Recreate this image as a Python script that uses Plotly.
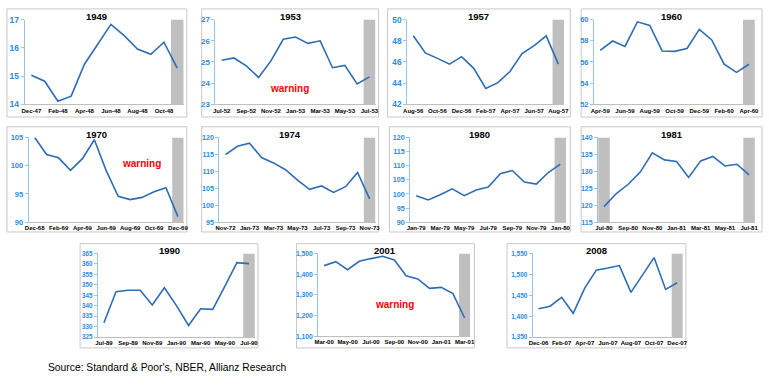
import plotly.graph_objects as go

W, H = 769, 387

# ---------------- data ----------------
titles = ["1949", "1953", "1957", "1960", "1970", "1974", "1980", "1981", "1990", "2001", "2008"]

m1949 = ["Dec-47", "Jan-48", "Feb-48", "Mar-48", "Apr-48", "May-48", "Jun-48", "Jul-48", "Aug-48", "Sep-48", "Oct-48", "Nov-48"]
v1949 = [15.03, 14.82, 14.11, 14.29, 15.42, 16.14, 16.83, 16.43, 15.96, 15.77, 16.2, 15.28]
r1949 = ["Nov-48"]

m1953 = ["Jul-52", "Aug-52", "Sep-52", "Oct-52", "Nov-52", "Dec-52", "Jan-53", "Feb-53", "Mar-53", "Apr-53", "May-53", "Jun-53", "Jul-53"]
v1953 = [25.08, 25.19, 24.82, 24.27, 25.05, 26.07, 26.18, 25.88, 26.0, 24.73, 24.84, 23.96, 24.3]
r1953 = ["Jul-53"]

m1957 = ["Aug-56", "Sep-56", "Oct-56", "Nov-56", "Dec-56", "Jan-57", "Feb-57", "Mar-57", "Apr-57", "May-57", "Jun-57", "Jul-57", "Aug-57"]
v1957 = [48.47, 46.85, 46.34, 45.8, 46.5, 45.4, 43.5, 44.05, 45.1, 46.8, 47.55, 48.47, 45.8]
r1957 = ["Aug-57"]

m1960 = ["Apr-59", "May-59", "Jun-59", "Jul-59", "Aug-59", "Sep-59", "Oct-59", "Nov-59", "Dec-59", "Jan-60", "Feb-60", "Mar-60", "Apr-60"]
v1960 = [57.1, 57.98, 57.47, 59.79, 59.45, 57.04, 57.0, 57.28, 59.08, 58.08, 55.79, 55.02, 55.79]
r1960 = ["Apr-60"]

m1970 = ["Dec-68", "Jan-69", "Feb-69", "Mar-69", "Apr-69", "May-69", "Jun-69", "Jul-69", "Aug-69", "Sep-69", "Oct-69", "Nov-69", "Dec-69"]
v1970 = [105.0, 102.0, 101.4, 99.2, 101.25, 104.6, 99.1, 94.6, 94.0, 94.4, 95.4, 96.1, 91.0]
r1970 = ["Dec-69"]

m1974 = ["Nov-72", "Dec-72", "Jan-73", "Feb-73", "Mar-73", "Apr-73", "May-73", "Jun-73", "Jul-73", "Aug-73", "Sep-73", "Oct-73", "Nov-73"]
v1974 = [114.94, 117.4, 118.3, 114.1, 112.5, 110.5, 107.4, 104.7, 105.7, 103.8, 105.5, 109.7, 101.9]
r1974 = ["Nov-73"]

m1980 = ["Jan-79", "Feb-79", "Mar-79", "Apr-79", "May-79", "Jun-79", "Jul-79", "Aug-79", "Sep-79", "Oct-79", "Nov-79", "Dec-79", "Jan-80"]
v1980 = [99.4, 97.9, 99.7, 101.8, 99.4, 101.4, 102.5, 107.2, 108.3, 104.2, 103.5, 107.6, 110.6]
r1980 = ["Jan-80"]

m1981 = ["Jul-80", "Aug-80", "Sep-80", "Oct-80", "Nov-80", "Dec-80", "Jan-81", "Feb-81", "Mar-81", "Apr-81", "May-81", "Jun-81", "Jul-81"]
v1981 = [119.6, 123.4, 126.2, 129.8, 135.5, 133.4, 132.9, 128.2, 133.1, 134.4, 131.6, 132.1, 129.0]
r1981 = ["Jul-80", "Jul-81"]

m1990 = ["Jul-89", "Aug-89", "Sep-89", "Oct-89", "Nov-89", "Dec-89", "Jan-90", "Feb-90", "Mar-90", "Apr-90", "May-90", "Jun-90", "Jul-90"]
v1990 = [331.9, 346.7, 347.4, 347.4, 340.4, 348.6, 340.1, 330.6, 338.6, 338.3, 349.3, 360.6, 360.1]
r1990 = ["Jul-90"]

m2001 = ["Mar-00", "Apr-00", "May-00", "Jun-00", "Jul-00", "Aug-00", "Sep-00", "Oct-00", "Nov-00", "Dec-00", "Jan-01", "Feb-01", "Mar-01"]
v2001 = [1441, 1460, 1421, 1462, 1475, 1486, 1468, 1392, 1377, 1331, 1336, 1306, 1188]
r2001 = ["Mar-01"]

m2008 = ["Dec-06", "Jan-07", "Feb-07", "Mar-07", "Apr-07", "May-07", "Jun-07", "Jul-07", "Aug-07", "Sep-07", "Oct-07", "Nov-07", "Dec-07"]
v2008 = [1418, 1424, 1445, 1407, 1467, 1510, 1515, 1521, 1457, 1497, 1540, 1464, 1480]
r2008 = ["Dec-07"]

y_ranges = [(14, 17, 1), (23, 27, 1), (42, 50, 2), (52, 60, 2), (90, 105, 5), (95, 120, 5),
            (90, 120, 5), (115, 140, 5), (325, 365, 5), (1100, 1500, 100), (1350, 1550, 50)]

warning_panels = ["1953", "1970", "2001"]
source_text = "Source: Standard & Poor's, NBER, Allianz Research"

months = [m1949, m1953, m1957, m1960, m1970, m1974, m1980, m1981, m1990, m2001, m2008]
values = [v1949, v1953, v1957, v1960, v1970, v1974, v1980, v1981, v1990, v2001, v2008]
recess = [r1949, r1953, r1957, r1960, r1970, r1974, r1980, r1981, r1990, r2001, r2008]

# ---------------- layout geometry (pixels) ----------------
# box (l, t, r, b), plot (l, t, r, b)
geom = [
    ((3, 4, 185, 115), (21, 15, 182, 102)),
    ((200, 4, 379, 115), (214, 15, 376, 102)),
    ((388, 4, 573, 115), (408, 15, 567, 102)),
    ((584, 4, 767, 115), (597, 15, 760, 102)),
    ((3, 125, 185, 233), (25, 136, 182, 223)),
    ((200, 125, 379, 233), (218, 136, 376, 223)),
    ((390, 125, 573, 233), (411, 136, 569, 223)),
    ((584, 125, 767, 233), (601, 136, 760, 223)),
    ((77, 245, 257, 352), (95, 255, 254, 341)),
    ((296, 245, 476, 352), (318, 255, 472, 340)),
    ((509, 245, 690, 352), (535, 255, 687, 341)),
]
ytick_sizes = [8.5, 8, 8.3, 7.5, 7.5, 7.2, 7.2, 7, 6.3, 6.8, 6.5]
warning_pos = {"1953": (289, 86), "1970": (139, 163), "2001": (395, 307)}

LINE = "#2E6DB4"
BAR = "#BFBFBF"
YTXT = "#2E8BE0"
YAX = "#9DC3E6"
FONT = "Liberation Sans, Arial, sans-serif"


def px(x):
    return x / W


def py(y):
    return 1 - y / H


fig = go.Figure()
layout = dict(
    width=W, height=H, margin=dict(l=0, r=0, t=0, b=0),
    paper_bgcolor="white", plot_bgcolor="white", showlegend=False,
    bargap=0.05, font=dict(family=FONT),
)
shapes = []
annotations = []

for i in range(len(titles)):
    k = i + 1
    xs = "x" if k == 1 else f"x{k}"
    ys = "y" if k == 1 else f"y{k}"
    lo, hi, dt = y_ranges[i]
    cats = months[i]
    fig.add_trace(go.Bar(x=recess[i], y=[hi] * len(recess[i]), marker=dict(color=BAR, line=dict(width=0)),
                         xaxis=xs, yaxis=ys, hoverinfo="skip"))
    fig.add_trace(go.Scatter(x=cats, y=values[i], mode="lines", line=dict(color=LINE, width=1.6),
                             xaxis=xs, yaxis=ys))
    (bl, bt, br, bb), (pl, pt, pr, pb) = geom[i]
    layout[f"xaxis{k}"] = dict(
        domain=[px(pl), px(pr)], anchor=ys, type="category",
        categoryorder="array", categoryarray=cats,
        range=[-0.5, len(cats) - 0.5], tickmode="array", tickvals=cats[::2], ticktext=cats[::2],
        tickfont=dict(size=6, color="black", weight="bold", family=FONT), ticks="", tickangle=0,
        showline=True, linecolor="#BFBFBF", linewidth=1, showgrid=False, zeroline=False,
        fixedrange=True,
    )
    layout[f"yaxis{k}"] = dict(
        domain=[py(pb), py(pt)], anchor=xs, range=[lo, hi], dtick=dt, tick0=lo,
        tickformat=",d" if hi >= 1000 else "d",
        tickfont=dict(size=ytick_sizes[i], color=YTXT, weight="bold", family=FONT),
        ticks="outside", ticklen=3, tickcolor=YAX, showline=True, linecolor=YAX, linewidth=1,
        showgrid=False, zeroline=False, fixedrange=True,
    )
    shapes.append(dict(type="rect", xref="paper", yref="paper", x0=px(bl), x1=px(br), y0=py(bb), y1=py(bt),
                       line=dict(color="#C8C8C8", width=1), layer="below"))
    annotations.append(dict(text=f"<b>{titles[i]}</b>", xref="paper", yref="paper",
                            x=px((bl + br) / 2), y=py(pt - 3), showarrow=False,
                            xanchor="center", yanchor="middle",
                            font=dict(size=9.5, color="black", family=FONT)))
    if titles[i] in warning_panels:
        wx, wy = warning_pos[titles[i]]
        annotations.append(dict(text="<b>warning</b>", xref="paper", yref="paper", x=px(wx), y=py(wy),
                                showarrow=False, xanchor="center", yanchor="middle",
                                font=dict(size=10, color="#FF0000", family=FONT)))

annotations.append(dict(text=source_text, xref="paper", yref="paper", x=px(43), y=py(372),
                        showarrow=False, xanchor="left", yanchor="middle",
                        font=dict(size=10.3, color="black", family=FONT)))

layout["shapes"] = shapes
layout["annotations"] = annotations
fig.update_layout(**layout)
fig.write_html("out.html", config={"displayModeBar": False},
               post_script="document.body.style.margin='0';document.body.style.overflow='hidden';")
